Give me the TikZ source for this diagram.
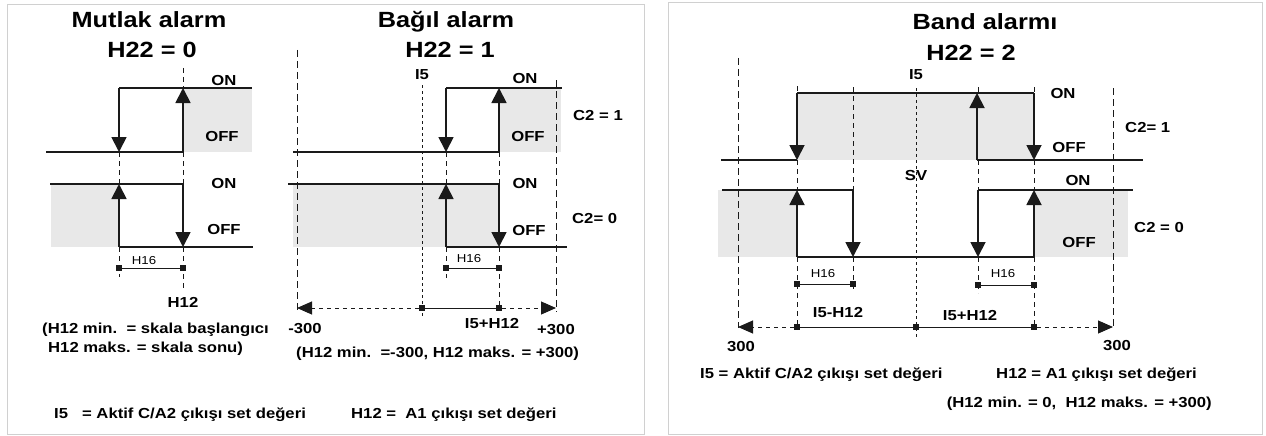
\documentclass[tikz,border=0pt]{standalone}
\usepackage{fontspec}
\setmainfont{Liberation Sans}[FakeStretch=1.15]
\usetikzlibrary{arrows.meta}
\definecolor{ink}{HTML}{1A1A1A}
\definecolor{shade}{HTML}{E8E8E8}
\definecolor{framec}{HTML}{D0D0D0}
\begin{document}
\begin{tikzpicture}[x=1pt,y=-1pt,
  sig/.style={line width=1.8pt, draw=ink},
  sigarr/.style={sig, -{Triangle[width=15pt,length=15pt]}},
  shadebox/.style={fill=shade, draw=none},
  frame/.style={draw=framec, line width=1pt},
  dsh/.style={draw=ink, line width=0.8pt, dash pattern=on 5pt off 4pt},
  ldsh/.style={draw=ink, line width=0.8pt, dash pattern=on 7pt off 4pt},
  fdsh/.style={draw=ink, line width=0.8pt, dash pattern=on 3pt off 3pt},
  dimline/.style={draw=ink, line width=1pt},
  rangedash/.style={draw=ink, line width=1pt, dash pattern=on 4pt off 4pt, -{Triangle[width=13pt,length=15pt]}},
  sq/.style={rectangle, fill=ink, minimum size=6pt, inner sep=0pt},
  ttl/.style={font=\fontsize{22}{26}\selectfont\bfseries, anchor=base, inner sep=0pt},
  lbl/.style={font=\fontsize{14.5}{17}\selectfont\bfseries, anchor=base, inner sep=0pt},
  sml/.style={font=\fontsize{11.5}{14}\selectfont, anchor=base, inner sep=0pt},
]
\useasboundingbox (0,0) rectangle (1266,436);
% frames
\draw[frame] (7,5) rectangle (644,434);
\draw[frame] (668,3) rectangle (1262,434);

%================ LEFT PANEL =================
\fill[shadebox] (183,88) rectangle (252,152);
\fill[shadebox] (51,184) rectangle (119,247);
% guides
\draw[dsh] (183,68) -- (183,88);
\draw[dsh] (183,152) -- (183,184);
\draw[dsh] (183,247) -- (183,288);
\draw[dsh] (119,152) -- (119,184);
\draw[dsh] (119,247) -- (119,277);
% upper signal
\coordinate (Lu0) at (46,152);
\coordinate (LuA) at (119,88);
\coordinate (LuAb) at (119,152);
\coordinate (LuB) at (183,88);
\coordinate (LuBb) at (183,152);
\coordinate (LuE) at (252,88);
\draw[sig] (Lu0) -- (LuBb);
\draw[sig] (LuA) -- (LuE);
\draw[sigarr] (LuA) -- (LuAb);
\draw[sigarr] (LuBb) -- (LuB);
% lower signal
\coordinate (Ll0) at (50,184);
\coordinate (LlAt) at (119,184);
\coordinate (LlA) at (119,247);
\coordinate (LlBt) at (183,184);
\coordinate (LlB) at (183,247);
\coordinate (LlE) at (253,247);
\draw[sig] (Ll0) -- (LlBt);
\draw[sig] (LlA) -- (LlE);
\draw[sigarr] (LlA) -- (LlAt);
\draw[sigarr] (LlBt) -- (LlB);
% H16
\node[sq] (Ld1) at (119,268) {};
\node[sq] (Ld2) at (183,268) {};
\draw[dimline] (Ld1) -- (Ld2);
\node[sml] (Lh16) at (144,264) {H16};
% labels
\node[ttl] (Lt1) at (149,28) {Mutlak alarm};
\node[ttl] (Lt2) at (152,58) {H22 = 0};
\node[lbl] (Lon1) at (224,85) {ON};
\node[lbl] (Loff1) at (222,141) {OFF};
\node[lbl] (Lon2) at (224,188) {ON};
\node[lbl] (Loff2) at (224,234) {OFF};
\node[lbl] (Lh12) at (183,307) {H12};
\node[lbl, anchor=base west] (Ln1) at (42,333) {(H12 min.\ \ = skala başlangıcı};
\node[lbl, anchor=base west] (Ln2) at (48,352) {H12 maks. = skala sonu)};
\node[lbl, anchor=base west] (Lb1) at (54,418) {I5\hspace{14pt}= Aktif C/A2 çıkışı set değeri};

%================ MIDDLE PANEL =================
\fill[shadebox] (499,88) rectangle (561,152);
\fill[shadebox] (293,184) rectangle (499,247);
% guides
\draw[ldsh] (297,50) -- (297,312);
\draw[ldsh] (556,80) -- (556,312);
\draw[fdsh] (422,85) -- (422,317);
\draw[dsh] (446,152) -- (446,184);
\draw[dsh] (446,247) -- (446,278);
\draw[dsh] (499,152) -- (499,184);
\draw[dsh] (499,247) -- (499,308);
% upper signal
\coordinate (Mu0) at (293,152);
\coordinate (MuA) at (446,88);
\coordinate (MuAb) at (446,152);
\coordinate (MuB) at (499,88);
\coordinate (MuBb) at (499,152);
\coordinate (MuE) at (562,88);
\draw[sig] (Mu0) -- (MuBb);
\draw[sig] (MuA) -- (MuE);
\draw[sigarr] (MuA) -- (MuAb);
\draw[sigarr] (MuBb) -- (MuB);
% lower signal
\coordinate (Ml0) at (288,184);
\coordinate (MlAt) at (446,184);
\coordinate (MlA) at (446,247);
\coordinate (MlBt) at (499,184);
\coordinate (MlB) at (499,247);
\coordinate (MlE) at (567,247);
\draw[sig] (Ml0) -- (MlBt);
\draw[sig] (MlA) -- (MlE);
\draw[sigarr] (MlA) -- (MlAt);
\draw[sigarr] (MlBt) -- (MlB);
% H16
\node[sq] (Md1) at (446,268) {};
\node[sq] (Md2) at (499,268) {};
\draw[dimline] (Md1) -- (Md2);
\node[sml] (Mh16) at (469,262) {H16};
% range
\node[sq] (Mr1) at (422,308) {};
\node[sq] (Mr2) at (499,308) {};
\coordinate (MrL) at (297,308);
\coordinate (MrR) at (556,308);
\draw[dimline] (Mr1) -- (Mr2);
\draw[rangedash] (Mr1) -- (MrL);
\draw[rangedash] (Mr2) -- (MrR);
% labels
\node[ttl] (Mt1) at (446,28) {Bağıl alarm};
\node[ttl] (Mt2) at (450,58) {H22 = 1};
\node[lbl] (Mi5) at (422,80) {I5};
\node[lbl] (Mon1) at (525,83) {ON};
\node[lbl] (Moff1) at (528,141) {OFF};
\node[lbl] (Mon2) at (525,188) {ON};
\node[lbl] (Moff2) at (529,235) {OFF};
\node[lbl, anchor=base west] (Mc1) at (573,120) {C2 = 1};
\node[lbl, anchor=base west] (Mc0) at (572,223) {C2= 0};
\node[lbl] (Mm300) at (305,333) {-300};
\node[lbl] (Mi5h) at (492,328) {I5+H12};
\node[lbl] (Mp300) at (556,334) {+300};
\node[lbl, anchor=base west] (Mn1) at (296,357) {(H12 min.\ \ =-300, H12 maks. = +300)};
\node[lbl, anchor=base west] (Mb1) at (351,418) {H12 =\ \ A1 çıkışı set değeri};

%================ RIGHT PANEL =================
\fill[shadebox] (797,93) rectangle (1035,160);
\fill[shadebox] (718,190) rectangle (797,257);
\fill[shadebox] (1034,190) rectangle (1128,257);
% guides
\draw[ldsh] (738,58) -- (738,328);
\draw[ldsh] (1113,88) -- (1113,328);
\draw[fdsh] (916,88) -- (916,337);
\draw[dsh] (797,86) -- (797,93);
\draw[dsh] (797,160) -- (797,190);
\draw[dsh] (797,257) -- (797,327);
\draw[dsh] (853,87) -- (853,190);
\draw[dsh] (853,257) -- (853,290);
\draw[dsh] (978,87) -- (978,93);
\draw[dsh] (978,160) -- (978,190);
\draw[dsh] (978,257) -- (978,293);
\draw[dsh] (1034,87) -- (1034,93);
\draw[dsh] (1034,160) -- (1034,190);
\draw[dsh] (1034,257) -- (1034,327);
% upper signal
\coordinate (Ru0) at (721,160);
\coordinate (RuA) at (797,93);
\coordinate (RuAb) at (797,160);
\coordinate (RuB) at (977,93);
\coordinate (RuBb) at (977,160);
\coordinate (RuC) at (1034,93);
\coordinate (RuCb) at (1034,160);
\coordinate (RuE) at (1143,160);
\draw[sig] (Ru0) -- (RuAb);
\draw[sig] (RuA) -- (RuC);
\draw[sig] (RuBb) -- (RuE);
\draw[sigarr] (RuA) -- (RuAb);
\draw[sigarr] (RuBb) -- (RuB);
\draw[sigarr] (RuC) -- (RuCb);
% lower signal
\coordinate (Rl0) at (722,190);
\coordinate (RlAt) at (797,190);
\coordinate (RlA) at (797,257);
\coordinate (RlBt) at (853,190);
\coordinate (RlB) at (853,257);
\coordinate (RlCt) at (978,190);
\coordinate (RlC) at (978,257);
\coordinate (RlDt) at (1034,190);
\coordinate (RlD) at (1034,257);
\coordinate (RlE) at (1133,190);
\draw[sig] (Rl0) -- (RlBt);
\draw[sig] (RlA) -- (RlD);
\draw[sig] (RlCt) -- (RlE);
\draw[sigarr] (RlA) -- (RlAt);
\draw[sigarr] (RlBt) -- (RlB);
\draw[sigarr] (RlCt) -- (RlC);
\draw[sigarr] (RlD) -- (RlDt);
% H16
\node[sq] (Rd1) at (797,284) {};
\node[sq] (Rd2) at (853,284) {};
\draw[dimline] (Rd1) -- (Rd2);
\node[sml] (Rh16a) at (823,277) {H16};
\node[sq] (Rd3) at (978,285) {};
\node[sq] (Rd4) at (1034,285) {};
\draw[dimline] (Rd3) -- (Rd4);
\node[sml] (Rh16b) at (1003,277) {H16};
% range
\node[sq] (Rr1) at (797,327) {};
\node[sq] (Rr2) at (916,327) {};
\node[sq] (Rr3) at (1034,327) {};
\coordinate (RrL) at (738,327);
\coordinate (RrR) at (1113,327);
\draw[dimline] (Rr1) -- (Rr2);
\draw[dimline] (Rr2) -- (Rr3);
\draw[rangedash] (Rr1) -- (RrL);
\draw[rangedash] (Rr3) -- (RrR);
% labels
\node[ttl] (Rt1) at (985,30) {Band alarmı};
\node[ttl] (Rt2) at (971,60) {H22 = 2};
\node[lbl] (Ri5) at (916,80) {I5};
\node[lbl] (Ron1) at (1063,98) {ON};
\node[lbl] (Roff1) at (1069,152) {OFF};
\node[lbl, anchor=base west] (Rc1) at (1125,132) {C2= 1};
\node[lbl] (Rsv) at (916,180) {SV};
\node[lbl] (Ron2) at (1078,185) {ON};
\node[lbl, anchor=base west] (Rc0) at (1134,232) {C2 = 0};
\node[lbl] (Roff2) at (1079,247) {OFF};
\node[lbl] (Ri5m) at (838,317) {I5-H12};
\node[lbl] (Ri5p) at (970,320) {I5+H12};
\node[lbl] (R300a) at (741,351) {300};
\node[lbl] (R300b) at (1117,350) {300};
\node[lbl, anchor=base west] (Rb1) at (700,378) {I5 = Aktif C/A2 çıkışı set değeri};
\node[lbl, anchor=base west] (Rb2) at (996,378) {H12 = A1 çıkışı set değeri};
\node[lbl, anchor=base east] (Rn1) at (1212,407) {(H12 min. = 0,\ \ H12 maks. = +300)};
\end{tikzpicture}
\end{document}
